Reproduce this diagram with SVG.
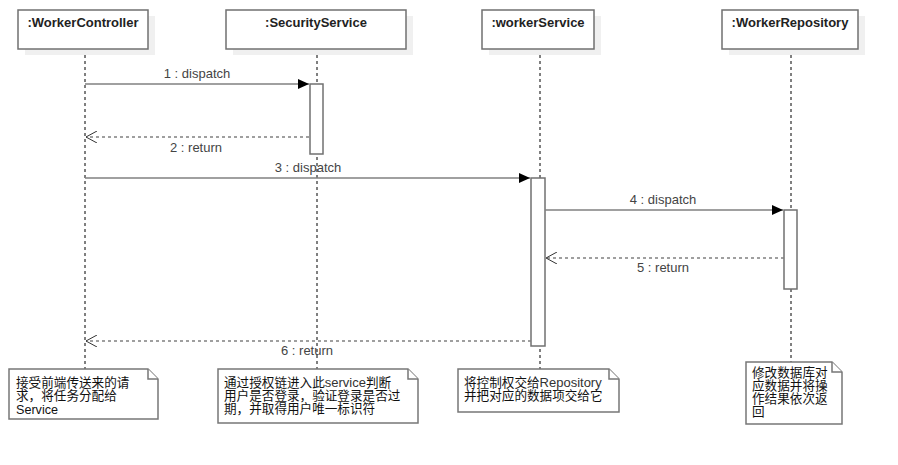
<svg xmlns="http://www.w3.org/2000/svg" width="898" height="465" viewBox="0 0 898 465">
<defs>
<style>
.shadow{fill:#f0f0f0;stroke:none}
.head{fill:#fff;stroke:#707070;stroke-width:1.5}
.title{font-family:"Liberation Sans",Arial,sans-serif;font-size:13px;font-weight:bold;fill:#222;text-anchor:middle}
.life{stroke:#000;stroke-width:1;stroke-dasharray:3,3;fill:none}
.act{fill:#fff;stroke:#707070;stroke-width:1.5}
.msg{stroke:#808080;stroke-width:1.5;fill:none}
.ret{stroke:#808080;stroke-width:1.5;stroke-dasharray:3,3;fill:none}
.lbl{font-family:"Liberation Sans",Arial,sans-serif;font-size:13px;fill:#444;text-anchor:middle}
.note{fill:#fff;stroke:#777;stroke-width:1.5}
.ntxt{font-family:"Liberation Sans","Noto Sans CJK SC",sans-serif;font-size:12.6px;fill:#111}
.lat{font-size:13px;fill:#333}
</style>
<marker id="filled" markerWidth="12" markerHeight="10" refX="11" refY="5" orient="auto" markerUnits="userSpaceOnUse">
<path d="M0,0 L11,5 L0,10 Z" fill="#000"/>
</marker>
<marker id="open" markerWidth="12" markerHeight="12" refX="11" refY="6" orient="auto" markerUnits="userSpaceOnUse">
<path d="M0,0 L11,6 L0,12" fill="none" stroke="#333" stroke-width="1"/>
</marker>
</defs>
<rect width="898" height="465" fill="#fff"/>

<g id="lifelines">
<line class="life" x1="85" y1="49" x2="85" y2="369"/>
<line class="life" x1="317" y1="49" x2="317" y2="369"/>
<line class="life" x1="540" y1="49" x2="540" y2="369"/>
<line class="life" x1="791" y1="49" x2="791" y2="362"/>
</g>

<g id="WorkerController">
<rect class="shadow" x="25" y="16" width="130" height="39"/>
<rect class="head" x="18" y="10" width="130" height="39"/>
<text class="title" x="83" y="27">:WorkerController</text>
</g>
<g id="SecurityService">
<rect class="shadow" x="233" y="16" width="180" height="39"/>
<rect class="head" x="226" y="10" width="180" height="39"/>
<text class="title" x="316" y="27">:SecurityService</text>
</g>
<g id="workerService">
<rect class="shadow" x="489" y="16" width="112" height="39"/>
<rect class="head" x="482" y="10" width="112" height="39"/>
<text class="title" x="538" y="27">:workerService</text>
</g>
<g id="WorkerRepository">
<rect class="shadow" x="729" y="16" width="136" height="39"/>
<rect class="head" x="722" y="10" width="136" height="39"/>
<text class="title" x="790" y="27">:WorkerRepository</text>
</g>

<g id="activations">
<rect class="act" x="310" y="84" width="13" height="70"/>
<rect class="act" x="531" y="178" width="14" height="168"/>
<rect class="act" x="784" y="210" width="13" height="79"/>
</g>

<g id="connectors">
<line class="msg" x1="85" y1="84" x2="309" y2="84" marker-end="url(#filled)"/>
<text class="lbl" x="197" y="78">1 : dispatch</text>
<line class="ret" x1="309" y1="137" x2="86" y2="137" marker-end="url(#open)"/>
<text class="lbl" x="196" y="152">2 : return</text>
<line class="msg" x1="85" y1="178" x2="530" y2="178" marker-end="url(#filled)"/>
<text class="lbl" x="308" y="172">3 : dispatch</text>
<line class="msg" x1="545" y1="210" x2="783" y2="210" marker-end="url(#filled)"/>
<text class="lbl" x="663" y="204">4 : dispatch</text>
<line class="ret" x1="784" y1="258" x2="546" y2="258" marker-end="url(#open)"/>
<text class="lbl" x="663" y="272">5 : return</text>
<line class="ret" x1="531" y1="341" x2="86" y2="341" marker-end="url(#open)"/>
<text class="lbl" x="307" y="355">6 : return</text>
</g>

<g id="note1">
<path class="note" d="M9,369 L148,369 L158,379 L158,419 L9,419 Z"/>
<path class="note" d="M148,369 L148,379 L158,379" fill="none"/>
<text class="ntxt" x="16" y="387">接受前端传送来的请</text>
<text class="ntxt" x="16" y="400">求，将任务分配给</text>
<text class="ntxt" x="16" y="414" fill="#333">Service</text>
</g>
<g id="note2">
<path class="note" d="M218,369 L408,369 L418,379 L418,423 L218,423 Z"/>
<path class="note" d="M408,369 L408,379 L418,379" fill="none"/>
<text class="ntxt" x="224" y="387">通过授权链进入此<tspan class="lat">service</tspan>判断</text>
<text class="ntxt" x="224" y="400">用户是否登录，验证登录是否过</text>
<text class="ntxt" x="224" y="413">期，并取得用户唯一标识符</text>
</g>
<g id="note3">
<path class="note" d="M458,369 L609,369 L619,379 L619,412 L458,412 Z"/>
<path class="note" d="M609,369 L609,379 L619,379" fill="none"/>
<text class="ntxt" x="464" y="387">将控制权交给<tspan class="lat">Repository</tspan></text>
<text class="ntxt" x="464" y="400">并把对应的数据项交给它</text>
</g>
<g id="note4">
<path class="note" d="M746,362 L832,362 L842,372 L842,424 L746,424 Z"/>
<path class="note" d="M832,362 L832,372 L842,372" fill="none"/>
<text class="ntxt" x="752" y="377">修改数据库对</text>
<text class="ntxt" x="752" y="390">应数据并将操</text>
<text class="ntxt" x="752" y="403">作结果依次返</text>
<text class="ntxt" x="752" y="416">回</text>
</g>
</svg>
